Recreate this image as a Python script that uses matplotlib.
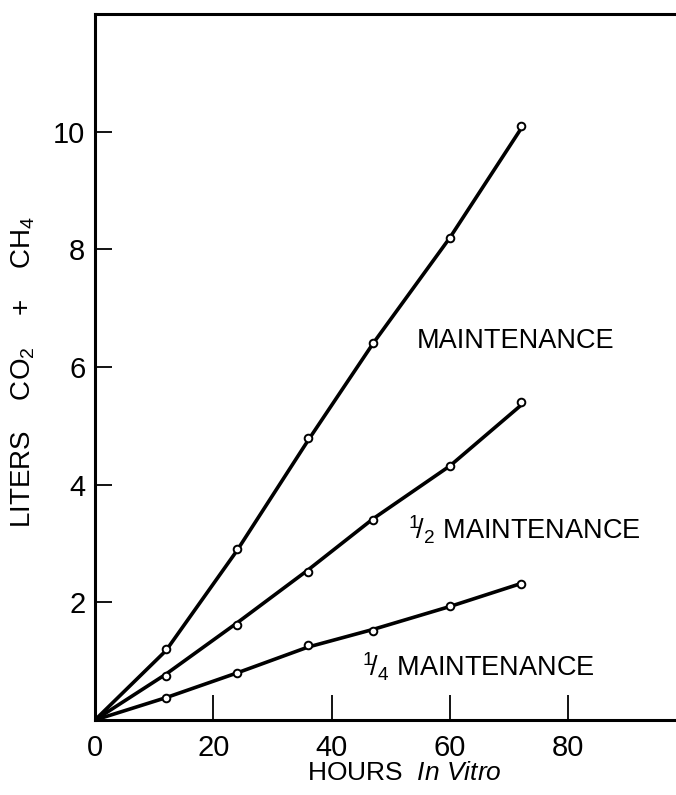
import numpy as np
import matplotlib.pyplot as plt

# data
hours = [0, 12, 24, 36, 47, 60, 72]
maint = [0, 1.2, 2.9, 4.8, 6.4, 8.2, 10.1]
half_maint = [0, 0.75, 1.62, 2.52, 3.4, 4.32, 5.4]
quarter_maint = [0, 0.38, 0.8, 1.27, 1.52, 1.93, 2.32]

# hand drawn lines (end of the 1/2 line sits a bit under its last point)
maint_line = [0, 1.18, 2.88, 4.75, 6.4, 8.2, 10.05]
half_line = [0, 0.78, 1.65, 2.55, 3.42, 4.32, 5.35]
quarter_line = [0, 0.38, 0.8, 1.24, 1.54, 1.93, 2.32]

xticks = [0, 20, 40, 60, 80]
yticks = [2, 4, 6, 8, 10]

plt.rcParams['font.family'] = ['Liberation Sans', 'DejaVu Sans']
plt.rcParams['mathtext.fontset'] = 'custom'
plt.rcParams['mathtext.rm'] = 'Liberation Sans'
plt.rcParams['mathtext.it'] = 'Liberation Sans:italic'

fig = plt.figure(figsize=(6.76, 7.95), dpi=100)
ax = fig.add_axes([0.1405, 0.0943, 0.8595, 0.8881])

for line, pts in [(maint_line, maint), (half_line, half_maint), (quarter_line, quarter_maint)]:
    ax.plot(hours, line, 'k-', lw=2.6, solid_capstyle='round', zorder=2)
    ax.plot(hours[1:], pts[1:], 'o', ms=5.5, mfc='white', mec='k', mew=1.4, zorder=3)

ax.set_xlim(0, 98.2)
ax.set_ylim(0, 12.0)
ax.set_xticks(xticks)
ax.set_yticks(yticks)
ax.tick_params(axis='x', direction='in', length=18, width=1.3, pad=10, labelsize=21)
ax.tick_params(axis='y', direction='in', length=12, width=1.3, pad=7, labelsize=21)

ax.spines['right'].set_visible(False)
for s in ['left', 'top', 'bottom']:
    ax.spines[s].set_linewidth(2.2)

ax.text(54.4, 6.45, 'MAINTENANCE', fontsize=19.5, va='center', ha='left')
ax.text(52.9, 3.23, r'${}^{1}\!/_{2}$ MAINTENANCE', fontsize=19.5, va='center', ha='left')
ax.text(45.1, 0.90, r'${}^{1}\!/_{4}$ MAINTENANCE', fontsize=19.5, va='center', ha='left')

fig.text(0.034, 0.532, r'LITERS    CO$_2$    +    CH$_4$', fontsize=20,
         rotation=90, ha='center', va='center')
fig.text(0.598, 0.028, r'HOURS  $\mathit{In\ Vitro}$', fontsize=19,
         ha='center', va='center')

fig.savefig('out.png', dpi=100)
